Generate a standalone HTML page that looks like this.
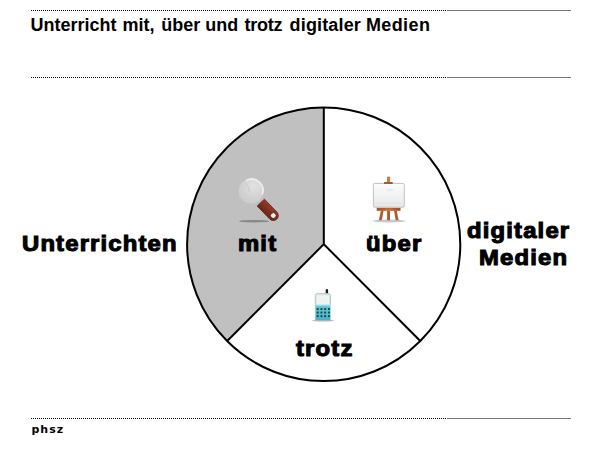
<!DOCTYPE html>
<html lang="de">
<head>
<meta charset="utf-8">
<title>Unterricht mit, über und trotz digitaler Medien</title>
<style>
html,body{margin:0;padding:0;background:#fff;}
body{width:600px;height:450px;position:relative;overflow:hidden;font-family:"Liberation Sans",Arial,sans-serif;font-weight:bold;color:#000;}
.rule{position:absolute;left:31px;width:540px;height:1px;}
.rule .dot{position:absolute;left:0;top:0;width:416px;height:1px;background:repeating-linear-gradient(to right,#000 0 1px,transparent 1px 2px);}
.rule .sol{position:absolute;left:416px;top:0;width:124px;height:1px;background:#777;}
.t{position:absolute;white-space:nowrap;line-height:1;}
#title{left:0;top:16px;width:600px;height:20px;font-size:18px;}
#title span{position:absolute;top:0;}
.lbl{font-family:"Liberation Sans",Arial,sans-serif;font-size:22.5px;-webkit-text-stroke:1.1px #000;transform:scaleX(1.06);transform-origin:0 0;letter-spacing:1.1px;}
#phsz{left:31.5px;top:424px;font-family:"DejaVu Sans",sans-serif;font-size:11px;letter-spacing:1px;}
svg{position:absolute;left:0;top:0;}
</style>
</head>
<body>
<div class="rule" style="top:10px"><div class="dot"></div><div class="sol"></div></div>
<div class="rule" style="top:77px"><div class="dot"></div><div class="sol"></div></div>
<div class="rule" style="top:418px"><div class="dot"></div><div class="sol"></div></div>

<div class="t" id="title"><span style="left:30.6px">Unterricht</span> <span style="left:122.6px">mit,</span> <span style="left:161.3px">über</span> <span style="left:205.2px">und</span> <span style="left:244.6px;letter-spacing:-0.3px">trotz</span> <span style="left:289.6px;letter-spacing:0.15px">digitaler</span> <span style="left:365.9px;letter-spacing:0.4px">Medien</span></div>

<svg width="600" height="450" viewBox="0 0 600 450">
  <defs>
    <radialGradient id="wh" cx="0.6" cy="0.3" r="0.8">
      <stop offset="0" stop-color="#e2e2e2"/>
      <stop offset="0.55" stop-color="#d3d3d3"/>
      <stop offset="1" stop-color="#c9c9c9"/>
    </radialGradient>
    <linearGradient id="hd" x1="0" y1="0" x2="0" y2="1">
      <stop offset="0" stop-color="#953a28"/>
      <stop offset="1" stop-color="#6c2618"/>
    </linearGradient>
    <linearGradient id="cv" x1="0" y1="0" x2="0" y2="1">
      <stop offset="0" stop-color="#fcfcfc"/>
      <stop offset="1" stop-color="#e8e8e8"/>
    </linearGradient>
    <linearGradient id="wd" x1="0" y1="0" x2="1" y2="0">
      <stop offset="0" stop-color="#a44e22"/>
      <stop offset="0.5" stop-color="#c86a34"/>
      <stop offset="1" stop-color="#a44e22"/>
    </linearGradient>
    <linearGradient id="kp" x1="0" y1="0" x2="0" y2="1">
      <stop offset="0" stop-color="#66c8d4"/>
      <stop offset="1" stop-color="#48b2c4"/>
    </linearGradient>
    <linearGradient id="sc" x1="0" y1="0" x2="0" y2="1">
      <stop offset="0" stop-color="#eef8f8"/>
      <stop offset="0.6" stop-color="#f8eeee"/>
      <stop offset="1" stop-color="#eaf6f6"/>
    </linearGradient>
  </defs>
  <!-- gray sector -->
  <path d="M323.8 244.2 L323.8 107.4 A136.6 136.85 0 0 0 227.2 341 Z" fill="#c0c0c0" stroke="#c0c0c0" stroke-width="1"/>
  <ellipse cx="323.7" cy="244.25" rx="136.6" ry="136.85" fill="none" stroke="#000" stroke-width="2"/>
  <path d="M323.8 107.4 L323.8 244.2 L227.2 341 M323.8 244.2 L420.3 341" fill="none" stroke="#000" stroke-width="2"/>

  <!-- wrench -->
  <ellipse cx="254" cy="221.2" rx="15" ry="1.2" fill="#878787"/>
  <circle cx="251.1" cy="191.3" r="12.4" fill="url(#wh)"/>
  <path d="M246 180.6 A11.4 11.4 0 0 1 262.2 194.5" fill="none" stroke="#f2f2f2" stroke-width="1.8" opacity="0.85"/>
  <path d="M245.5 183 Q249 186 249.5 192" fill="none" stroke="#bdbdbd" stroke-width="1" opacity="0.6"/>
  <g transform="translate(260.8 202.6) rotate(46)">
    <path d="M0 -5 H18 A5 5 0 0 1 18 5 H0 Z" fill="url(#hd)" stroke="#4e1a10" stroke-width="0.7"/>
    <circle cx="18" cy="0" r="2.9" fill="#f4ebe8" stroke="#4a1a10" stroke-width="0.9"/>
  </g>
  <!-- easel -->
  <ellipse cx="389" cy="221" rx="16.5" ry="1.5" fill="#a6b4c2" opacity="0.7"/>
  <rect x="387" y="176.4" width="3.2" height="7" rx="1.2" fill="#c88048"/>
  <path d="M380.9 210.5 L383.6 210.5 L381.8 220.3 L378.9 220.3 Z" fill="#b05a28"/>
  <rect x="387.1" y="210.5" width="2.9" height="9.8" fill="#b05a28"/>
  <path d="M394 210.5 L396.7 210.5 L398.6 220.3 L395.7 220.3 Z" fill="#b05a28"/>
  <rect x="373.4" y="183.4" width="30.9" height="23.8" rx="1" fill="url(#cv)" stroke="#c2c2c2" stroke-width="1"/>
  <line x1="375" y1="203.2" x2="402.5" y2="203.2" stroke="#dcdcdc" stroke-width="0.6"/>
  <ellipse cx="390" cy="190" rx="3.5" ry="1.2" fill="#d6ecf8" opacity="0.8"/>
  <rect x="383.9" y="182.1" width="9" height="2" rx="0.8" fill="#a05a30"/>
  <rect x="376.7" y="207.9" width="23.8" height="2.9" fill="url(#wd)"/>

  <!-- phone -->
  <ellipse cx="323" cy="320.6" rx="11.5" ry="0.9" fill="#a8a8a8" opacity="0.8"/>
  <rect x="325.7" y="288.9" width="2.4" height="5" rx="1.2" fill="#1e1e1e"/>
  <rect x="315.3" y="293.6" width="15.2" height="12" rx="2" fill="#d8e8e8" stroke="#a9bcbe" stroke-width="0.8"/>
  <rect x="316.8" y="295.4" width="12.2" height="9" fill="url(#sc)"/>
  <rect x="315.3" y="304.8" width="15.2" height="15.4" fill="url(#kp)"/>
  <rect x="315.5" y="304.6" width="14.8" height="0.9" fill="#d8f2f4"/>
  <g fill="#0f4450">
    <rect x="316.7" y="308.1" width="1.9" height="1.9"/><rect x="320.5" y="308.1" width="1.9" height="1.9"/><rect x="324.2" y="308.1" width="1.9" height="1.9"/><rect x="328" y="308.1" width="1.9" height="1.9"/>
    <rect x="316.7" y="311.6" width="1.9" height="1.9"/><rect x="320.5" y="311.6" width="1.9" height="1.9"/><rect x="324.2" y="311.6" width="1.9" height="1.9"/><rect x="328" y="311.6" width="1.9" height="1.9"/>
    <rect x="316.7" y="315.2" width="1.9" height="1.9"/><rect x="320.5" y="315.2" width="1.9" height="1.9"/><rect x="324.2" y="315.2" width="1.9" height="1.9"/><rect x="328" y="315.2" width="1.9" height="1.9"/>
  </g>
</svg>

<div class="t lbl" style="left:21.7px;top:233px">Unterrichten</div>
<div class="t lbl" style="left:237.9px;top:233.3px">mit</div>
<div class="t lbl" style="left:365.5px;top:232.8px">über</div>
<div class="t lbl" style="left:295.8px;top:337.7px">trotz</div>
<div class="t lbl" style="left:467.3px;top:219.5px">digitaler</div>
<div class="t lbl" style="left:479.1px;top:247.2px">Medien</div>

<div class="t" id="phsz">phsz</div>
</body>
</html>
